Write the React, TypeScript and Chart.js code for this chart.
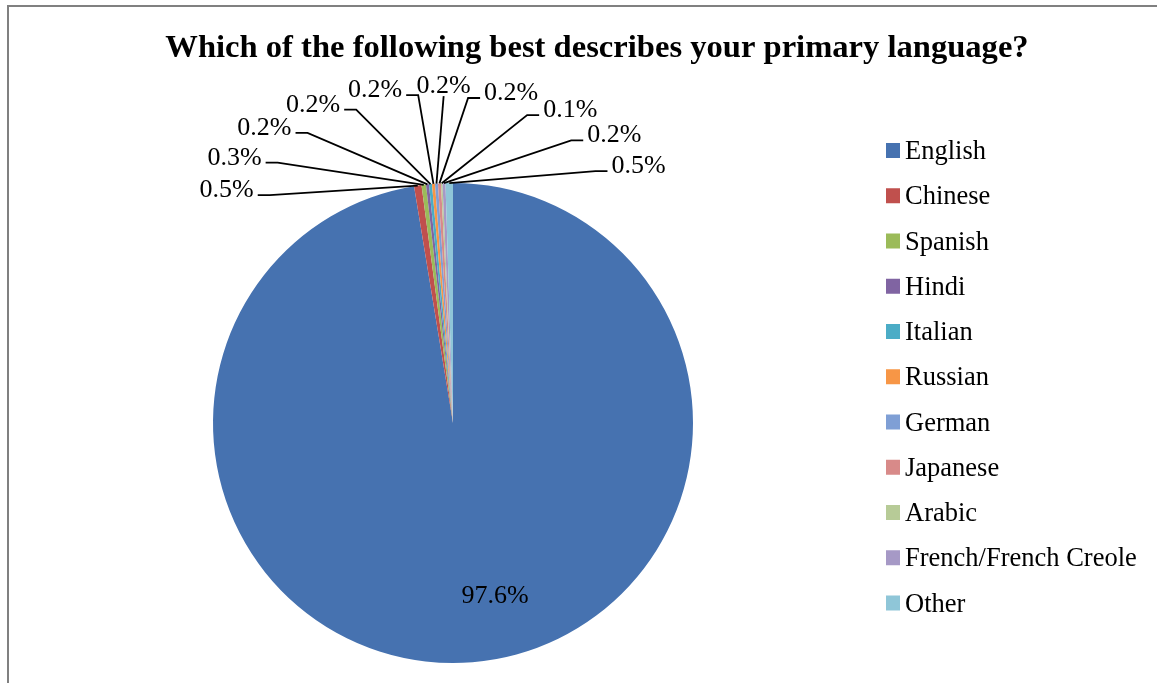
import React, { useEffect, useRef } from "react";
import { Chart, registerables } from "chart.js";

Chart.register(...registerables);

const TITLE = "Which of the following best describes your primary language?";
const languages = [
  "English",
  "Chinese",
  "Spanish",
  "Hindi",
  "Italian",
  "Russian",
  "German",
  "Japanese",
  "Arabic",
  "French/French Creole",
  "Other",
];
const percents = [97.6, 0.5, 0.3, 0.2, 0.2, 0.2, 0.2, 0.2, 0.1, 0.2, 0.5];
const valueLabels = ["97.6%", "0.5%", "0.3%", "0.2%", "0.2%", "0.2%", "0.2%", "0.2%", "0.1%", "0.2%", "0.5%"];
const colors = [
  "#4672B0",
  "#C0504D",
  "#9BBB59",
  "#8064A2",
  "#4BACC6",
  "#F79646",
  "#7F9FD5",
  "#D88A89",
  "#B7CB97",
  "#A699C6",
  "#8FC6D8",
];

const FONT = '"Liberation Serif", "Times New Roman", serif';

const overlayPlugin = {
  id: "overlay",
  afterDraw(chart: any) {
    const ctx: CanvasRenderingContext2D = chart.ctx;
    const arcs = chart.getDatasetMeta(0).data as any[];
    ctx.save();
    ctx.fillStyle = "#000";

    // Title
    ctx.font = `bold 32.6px ${FONT}`;
    ctx.textAlign = "center";
    ctx.textBaseline = "alphabetic";
    ctx.fillText(TITLE, 597, 57);

    // Data labels
    ctx.font = `26px ${FONT}`;
    const big = arcs[0];
    const { x: px, y: py, outerRadius: R } = big.getProps(["x", "y", "outerRadius"], true);
    {
      const { startAngle, endAngle } = big.getProps(["startAngle", "endAngle"], true);
      const mid = (startAngle + endAngle) / 2;
      const lx = px + Math.cos(mid) * R * 0.72 + 28;
      const ly = py + Math.sin(mid) * R * 0.72;
      ctx.textAlign = "center";
      ctx.fillText(valueLabels[0], lx, ly + 8);
    }

    // anchors for small slices
    const anchors: { x: number; y: number }[] = [];
    for (let i = 1; i < arcs.length; i++) {
      const { startAngle, endAngle } = arcs[i].getProps(["startAngle", "endAngle"], true);
      const mid = (startAngle + endAngle) / 2;
      anchors.push({ x: px + Math.cos(mid) * R, y: py + Math.sin(mid) * R });
    }
    const cx = anchors.reduce((s, a) => s + a.x, 0) / anchors.length;
    const cy = py - R;
    const n = anchors.length;
    const t0 = -93;
    const t1 = 79;
    ctx.strokeStyle = "#000";
    ctx.lineWidth = 1.8;
    for (let k = 0; k < n; k++) {
      const t = ((t0 + ((t1 - t0) * k) / (n - 1)) * Math.PI) / 180;
      const lx = cx + 208 * Math.sin(t);
      const ly = cy - 99 * Math.cos(t);
      const text = valueLabels[k + 1];
      const w = ctx.measureText(text).width;
      ctx.textAlign = "center";
      ctx.fillText(text, lx, ly + 9);
      const a = anchors[k];
      ctx.beginPath();
      if (lx < cx - 25) {
        const sx = lx + w / 2 + 4;
        const sy = ly + 7;
        ctx.moveTo(sx, sy);
        ctx.lineTo(sx + 12, sy);
      } else if (lx > cx + 25) {
        const sx = lx - w / 2 - 4;
        const sy = ly + 7;
        ctx.moveTo(sx, sy);
        ctx.lineTo(sx - 12, sy);
      } else {
        ctx.moveTo(lx, ly + 12);
      }
      ctx.lineTo(a.x, a.y);
      ctx.stroke();
    }

    // Legend
    ctx.font = `26.5px ${FONT}`;
    ctx.textAlign = "left";
    for (let i = 0; i < languages.length; i++) {
      const base = 159 + i * 45.25;
      ctx.fillStyle = colors[i];
      ctx.fillRect(886, base - 16, 14, 15);
      ctx.fillStyle = "#000";
      ctx.fillText(languages[i], 905, base);
    }
    ctx.restore();
  },
};

export default function App() {
  const ref = useRef<HTMLCanvasElement | null>(null);
  useEffect(() => {
    if (!ref.current) return;
    const chart = new Chart(ref.current, {
      type: "pie",
      data: {
        labels: languages,
        datasets: [
          {
            data: percents,
            backgroundColor: colors,
            borderWidth: 0,
            hoverOffset: 0,
          },
        ],
      },
      options: {
        responsive: false,
        animation: false,
        events: [],
        layout: { padding: { left: 213, right: 464, top: 183, bottom: 20 } },
        plugins: {
          legend: { display: false },
          tooltip: { enabled: false },
          title: { display: false },
        },
      },
      plugins: [overlayPlugin],
    } as any);
    return () => chart.destroy();
  }, []);

  return (
    <div style={{ position: "absolute", left: 0, top: 0, width: 1157, height: 683, overflow: "hidden", background: "#fff" }}>
      <div
        style={{
          position: "absolute",
          left: 7,
          top: 5,
          width: 1180,
          height: 700,
          border: "2px solid #808080",
          boxSizing: "border-box",
        }}
      />
      <canvas ref={ref} width={1157} height={683} style={{ position: "absolute", left: 0, top: 0, display: "block" }} />
    </div>
  );
}
